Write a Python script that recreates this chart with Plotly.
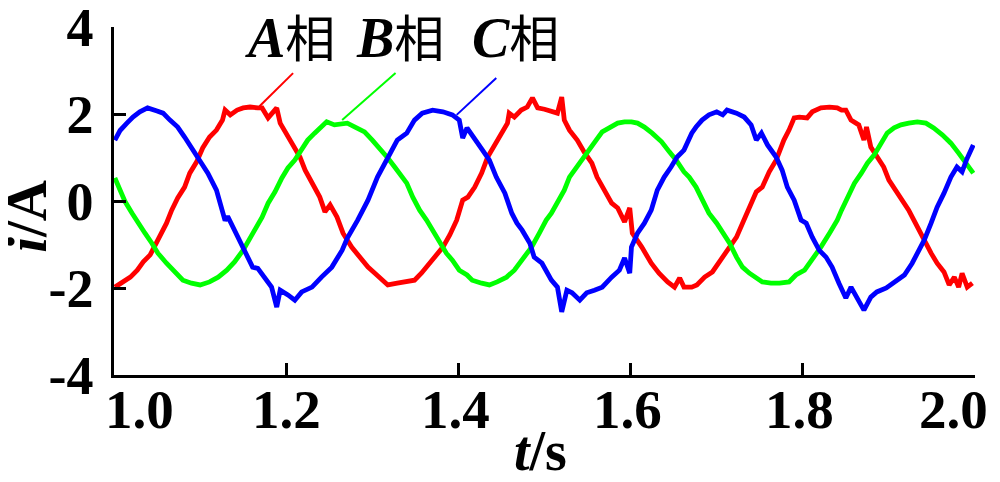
import plotly.graph_objects as go

# ---- Phase A (red) ----
t_a = [1.001, 1.010, 1.019, 1.027, 1.034, 1.042, 1.048, 1.053, 1.061, 1.067, 1.074, 1.082, 1.088, 1.096,
       1.103, 1.111, 1.119, 1.126, 1.129, 1.135, 1.143, 1.150, 1.158, 1.167, 1.172, 1.179, 1.184, 1.189,
       1.193, 1.201, 1.208, 1.216, 1.222, 1.230, 1.239, 1.245, 1.251, 1.259, 1.266, 1.276, 1.285, 1.295,
       1.303, 1.311, 1.318, 1.329, 1.340, 1.349, 1.357, 1.367, 1.375, 1.382, 1.390, 1.398, 1.405, 1.411,
       1.419, 1.427, 1.434, 1.442, 1.450, 1.457, 1.459, 1.465, 1.473, 1.480, 1.486, 1.492, 1.500, 1.508,
       1.515, 1.520, 1.523, 1.529, 1.538, 1.546, 1.555, 1.561, 1.570, 1.578, 1.585, 1.593, 1.599, 1.602,
       1.613, 1.624, 1.633, 1.643, 1.651, 1.657, 1.662, 1.671, 1.677, 1.686, 1.695, 1.705, 1.712, 1.723,
       1.730, 1.738, 1.746, 1.753, 1.761, 1.769, 1.778, 1.784, 1.790, 1.796, 1.805, 1.811, 1.821, 1.831,
       1.840, 1.845, 1.850, 1.856, 1.865, 1.871, 1.874, 1.879, 1.886, 1.894, 1.900, 1.908, 1.915, 1.923,
       1.929, 1.935, 1.941, 1.949, 1.956, 1.964, 1.970, 1.976, 1.981, 1.985, 1.991, 1.997]
i_a = [-1.98, -1.86, -1.75, -1.59, -1.40, -1.24, -1.01, -0.78, -0.51, -0.21, 0.07, 0.32, 0.64, 0.90,
       1.22, 1.47, 1.63, 1.86, 2.09, 1.98, 2.09, 2.14, 2.16, 2.14, 2.14, 1.91, 2.02, 2.14,
       1.79, 1.52, 1.33, 1.01, 0.71, 0.41, 0.09, -0.25, -0.09, -0.37, -0.74, -1.06, -1.29, -1.52,
       -1.66, -1.82, -1.93, -1.89, -1.86, -1.82, -1.66, -1.43, -1.24, -1.06, -0.78, -0.44, 0.02, 0.09,
       0.32, 0.64, 1.01, 1.29, 1.56, 1.79, 2.02, 1.93, 2.09, 2.16, 2.37, 2.14, 2.11, 2.05,
       2.02, 2.39, 1.86, 1.63, 1.40, 1.13, 0.87, 0.55, 0.25, -0.05, -0.16, -0.48, -0.16, -0.74,
       -1.06, -1.43, -1.66, -1.86, -1.98, -1.77, -1.98, -1.98, -1.93, -1.75, -1.63, -1.36, -1.13, -0.83,
       -0.51, -0.14, 0.21, 0.32, 0.67, 0.94, 1.40, 1.63, 1.91, 1.93, 1.91, 2.05, 2.14, 2.16,
       2.14, 2.09, 2.09, 1.86, 1.75, 1.40, 1.70, 1.24, 1.01, 0.78, 0.48, 0.25, 0.02, -0.21,
       -0.44, -0.67, -0.94, -1.20, -1.43, -1.63, -1.93, -1.75, -1.98, -1.66, -1.98, -1.89]

# ---- Phase B (green) ----
t_b = [1.001, 1.007, 1.013, 1.021, 1.028, 1.036, 1.044, 1.051, 1.061, 1.071, 1.080, 1.090, 1.100, 1.111,
       1.121, 1.131, 1.140, 1.150, 1.158, 1.167, 1.172, 1.179, 1.187, 1.195, 1.202, 1.210, 1.218, 1.225,
       1.233, 1.241, 1.247, 1.256, 1.265, 1.271, 1.280, 1.291, 1.300, 1.311, 1.318, 1.326, 1.334, 1.340,
       1.347, 1.355, 1.363, 1.370, 1.378, 1.386, 1.393, 1.401, 1.410, 1.416, 1.427, 1.436, 1.445, 1.456,
       1.465, 1.474, 1.485, 1.494, 1.502, 1.508, 1.515, 1.523, 1.529, 1.537, 1.544, 1.552, 1.560, 1.567,
       1.578, 1.585, 1.593, 1.601, 1.608, 1.616, 1.625, 1.636, 1.645, 1.653, 1.662, 1.668, 1.676, 1.683,
       1.691, 1.700, 1.707, 1.715, 1.723, 1.730, 1.738, 1.746, 1.753, 1.763, 1.773, 1.784, 1.792, 1.802,
       1.811, 1.821, 1.831, 1.840, 1.845, 1.852, 1.860, 1.868, 1.875, 1.883, 1.891, 1.898, 1.906, 1.914,
       1.923, 1.933, 1.943, 1.952, 1.962, 1.972, 1.981, 1.990, 1.998]
i_b = [0.53, 0.25, -0.02, -0.28, -0.51, -0.74, -0.97, -1.20, -1.43, -1.63, -1.82, -1.89, -1.93, -1.86,
       -1.75, -1.59, -1.40, -1.13, -0.85, -0.51, -0.37, -0.05, 0.21, 0.53, 0.76, 0.94, 1.17, 1.40,
       1.56, 1.70, 1.82, 1.75, 1.79, 1.79, 1.70, 1.59, 1.40, 1.17, 0.99, 0.78, 0.55, 0.41,
       0.09, -0.21, -0.44, -0.67, -0.97, -1.20, -1.36, -1.59, -1.70, -1.82, -1.89, -1.93, -1.86, -1.75,
       -1.59, -1.36, -1.06, -0.74, -0.44, -0.28, -0.05, 0.25, 0.55, 0.76, 0.94, 1.17, 1.40, 1.59,
       1.70, 1.79, 1.82, 1.82, 1.79, 1.70, 1.56, 1.36, 1.13, 0.94, 0.67, 0.55, 0.32, 0.02,
       -0.28, -0.51, -0.74, -0.97, -1.29, -1.52, -1.66, -1.77, -1.86, -1.89, -1.89, -1.86, -1.70, -1.59,
       -1.36, -1.06, -0.74, -0.44, -0.21, 0.09, 0.41, 0.64, 0.87, 1.06, 1.33, 1.56, 1.68, 1.75,
       1.79, 1.82, 1.79, 1.68, 1.52, 1.33, 1.10, 0.87, 0.64]

# ---- Phase C (blue) ----
t_c = [1.001, 1.007, 1.015, 1.022, 1.030, 1.039, 1.050, 1.057, 1.065, 1.074, 1.082, 1.090, 1.100, 1.109,
       1.119, 1.125, 1.129, 1.132, 1.140, 1.150, 1.161, 1.167, 1.175, 1.183, 1.189, 1.193, 1.202, 1.210,
       1.218, 1.230, 1.241, 1.253, 1.265, 1.271, 1.283, 1.295, 1.306, 1.318, 1.329, 1.340, 1.349, 1.358,
       1.370, 1.382, 1.393, 1.401, 1.405, 1.410, 1.419, 1.428, 1.436, 1.444, 1.454, 1.462, 1.468, 1.474,
       1.483, 1.488, 1.497, 1.502, 1.508, 1.515, 1.520, 1.526, 1.532, 1.541, 1.549, 1.558, 1.567, 1.578,
       1.587, 1.593, 1.599, 1.601, 1.608, 1.616, 1.624, 1.631, 1.639, 1.647, 1.654, 1.662, 1.671, 1.676,
       1.683, 1.691, 1.700, 1.707, 1.712, 1.723, 1.732, 1.740, 1.746, 1.752, 1.759, 1.769, 1.776, 1.782,
       1.790, 1.798, 1.804, 1.811, 1.819, 1.827, 1.834, 1.842, 1.850, 1.856, 1.863, 1.871, 1.879, 1.886,
       1.897, 1.906, 1.918, 1.927, 1.933, 1.941, 1.949, 1.956, 1.964, 1.972, 1.979, 1.985, 1.990, 1.995,
       1.998]
i_c = [1.40, 1.62, 1.79, 1.93, 2.05, 2.14, 2.07, 2.02, 1.86, 1.70, 1.47, 1.22, 0.90, 0.64,
       0.25, -0.15, -0.45, -0.35, -0.67, -1.06, -1.52, -1.55, -1.75, -1.98, -2.44, -2.05, -2.16, -2.28,
       -2.09, -1.98, -1.75, -1.52, -1.13, -0.85, -0.44, 0.02, 0.55, 0.99, 1.40, 1.56, 1.86, 2.02,
       2.09, 2.05, 1.98, 1.86, 1.45, 1.68, 1.40, 1.17, 0.94, 0.55, 0.18, -0.28, -0.51, -0.67,
       -0.97, -1.29, -1.43, -1.59, -1.82, -1.98, -2.55, -2.05, -2.11, -2.28, -2.11, -2.05, -1.98, -1.75,
       -1.59, -1.31, -1.66, -1.06, -0.74, -0.51, -0.21, 0.25, 0.55, 0.78, 1.01, 1.17, 1.56, 1.70,
       1.86, 1.98, 2.05, 1.98, 2.09, 2.02, 1.93, 1.75, 1.40, 1.56, 1.29, 1.01, 0.71, 0.32,
       0.02, -0.44, -0.51, -0.83, -1.13, -1.29, -1.52, -1.89, -2.23, -1.98, -2.21, -2.51, -2.21, -2.09,
       -2.00, -1.86, -1.70, -1.43, -1.20, -0.90, -0.51, -0.14, 0.18, 0.55, 0.78, 0.67, 0.94, 1.17,
       1.29]

# ---- axes / labels ----
x_ticks = [1.0, 1.2, 1.4, 1.6, 1.8, 2.0]
x_tick_labels = ["1.0", "1.2", "1.4", "1.6", "1.8", "2.0"]
y_ticks = [-4, -2, 0, 2, 4]
y_tick_labels = ["-4", "-2", "0", "2", "4"]
phase_names = ["A", "B", "C"]
phase_colors = ["#FF0000", "#00FF00", "#0000FF"]
label_pos_t = [1.204, 1.332, 1.466]
label_pos_i = 3.75
# leader lines: (t_start, i_start, t_end, i_end)
leaders = [(1.208, 2.94, 1.169, 2.18),
           (1.327, 2.94, 1.265, 1.86),
           (1.444, 2.83, 1.398, 1.98)]

SERIF = "Liberation Serif, Times New Roman, serif"

fig = go.Figure()
for tt, ii, col in [(t_a, i_a, phase_colors[0]), (t_b, i_b, phase_colors[1]), (t_c, i_c, phase_colors[2])]:
    fig.add_trace(go.Scatter(x=tt, y=ii, mode="lines", line=dict(color=col, width=4.8), showlegend=False))

for (x0, y0, x1, y1), col in zip(leaders, phase_colors):
    fig.add_shape(type="line", x0=x0, y0=y0, x1=x1, y1=y1, xref="x", yref="y",
                  line=dict(color=col, width=2))

for name, tx in zip(phase_names, label_pos_t):
    fig.add_annotation(x=tx, y=label_pos_i, xref="x", yref="y", showarrow=False,
                       text=f"<b><i><span style='font-size:56px'>{name}</span></i></b>相",
                       font=dict(family="Liberation Serif, Noto Sans CJK SC", size=50, color="black"))

x_shift = [25, 0, -3, -3, -3, -22]
for v, lab, sh in zip(x_ticks, x_tick_labels, x_shift):
    fig.add_annotation(x=v, y=0, xref="x", yref="paper", showarrow=False, text=f"<b>{lab}</b>",
                       yanchor="middle", yshift=-34, xshift=sh,
                       font=dict(family=SERIF, size=55, color="black"))

fig.add_annotation(x=0.5, y=0, xref="paper", yref="paper", showarrow=False,
                   text="<b><i>t</i></b><b>/s</b>", yanchor="middle", yshift=-76, xshift=-4,
                   font=dict(family=SERIF, size=56, color="black"))
fig.add_annotation(x=-0.102, y=0.455, xref="paper", yref="paper", showarrow=False,
                   text="<b><i>i</i></b><b>/A</b>", textangle=-90, xanchor="center", yanchor="middle",
                   font=dict(family=SERIF, size=57, color="black"))

fig.update_layout(
    width=992, height=474,
    margin=dict(l=106, r=25, t=19, b=107, autoexpand=False),
    paper_bgcolor="white", plot_bgcolor="white",
    xaxis=dict(range=[1.0, 2.0], tickvals=x_ticks, showticklabels=False, automargin=False,
               ticks="inside", ticklen=12, tickwidth=2.5, tickcolor="black",
               showline=True, linecolor="black", linewidth=2.5, showgrid=False, zeroline=False),
    yaxis=dict(range=[-4, 4], tickvals=y_ticks, ticktext=[f"<b>{s}</b>" for s in y_tick_labels],
               automargin=False, ticklabeloverflow="allow",
               ticks="inside", ticklen=12, tickwidth=2.5, tickcolor="black", ticklabelstandoff=7,
               tickfont=dict(family=SERIF, size=54, color="black"),
               showline=True, linecolor="black", linewidth=2.5, showgrid=False, zeroline=False),
)

fig.write_html("out.html")
